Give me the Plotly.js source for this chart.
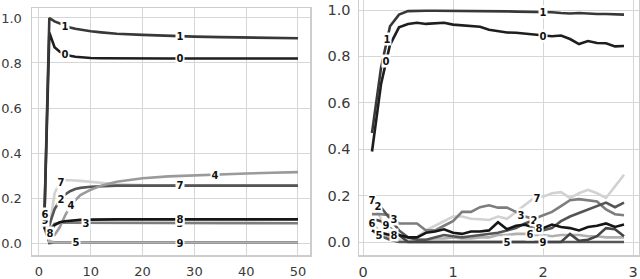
<!DOCTYPE html>
<html><head><meta charset="utf-8">
<script src="https://cdn.plot.ly/plotly-3.0.1.min.js"></script>
<style>html,body{margin:0;padding:0;background:#fff;}#chart{width:640px;height:279px;}</style>
</head><body><div id="chart"></div>
<script>
// ---- data: left panel ----
const seriesNames = ['0','1','2','3','4','5','6','7','8','9'];
const xLeft = [1,2,3,4,5,6,7,8,10,12,15,20,25,30,35,40,45,50];
const left0 = [0.07,0.935,0.87,0.85,0.84,0.832,0.828,0.825,0.822,0.821,0.82,0.82,0.82,0.82,0.82,0.82,0.82,0.82];
const left1 = [0.07,1.0,0.985,0.975,0.966,0.958,0.952,0.948,0.941,0.936,0.93,0.925,0.92,0.917,0.915,0.913,0.911,0.91];
const left2 = [0.09,0.08,0.15,0.19,0.215,0.23,0.24,0.245,0.25,0.253,0.255,0.255,0.255,0.255,0.255,0.255,0.255,0.255];
const left3 = [0.08,0.06,0.085,0.09,0.09,0.09,0.09,0.09,0.09,0.09,0.089,0.089,0.088,0.088,0.088,0.088,0.088,0.088];
const left4 = [0.08,0.02,0.035,0.07,0.12,0.165,0.19,0.213,0.237,0.255,0.272,0.288,0.296,0.301,0.305,0.309,0.312,0.315];
const left5 = [0.07,0.005,0.003,0.003,0.003,0.003,0.003,0.003,0.003,0.003,0.003,0.003,0.003,0.003,0.003,0.003,0.003,0.003];
const left6 = [0.15,0.005,0.002,0.002,0.002,0.002,0.002,0.002,0.002,0.002,0.002,0.002,0.002,0.002,0.002,0.002,0.002,0.002];
const left7 = [0.1,0.06,0.22,0.27,0.28,0.28,0.278,0.276,0.272,0.267,0.261,0.258,0.257,0.257,0.257,0.257,0.257,0.257];
const left8 = [0.07,0.04,0.08,0.092,0.097,0.1,0.102,0.103,0.104,0.105,0.105,0.105,0.105,0.105,0.105,0.105,0.105,0.105];
const left9 = [0.12,0.0,0.002,0.002,0.002,0.002,0.002,0.002,0.002,0.002,0.002,0.002,0.002,0.002,0.002,0.002,0.002,0.002];
const leftLabelX = [[5,27.2],[5,27.2],[4.2],[9.1,27.2],[6.1,34],[7.1],[1.14],[4.2,27.2],[2.1,27.2],[1.14,27.2]];

// ---- data: right panel ----
const xRight = [0.1,0.2,0.3,0.4,0.5,0.6,0.7,0.8,0.9,1.0,1.1,1.2,1.3,1.4,1.5,1.6,1.7,1.8,1.9,2.0,2.1,2.2,2.3,2.4,2.5,2.6,2.7,2.8,2.9];
const right0 = [0.39,0.68,0.85,0.925,0.94,0.945,0.94,0.942,0.945,0.937,0.935,0.932,0.928,0.915,0.908,0.903,0.902,0.898,0.893,0.89,0.887,0.89,0.875,0.853,0.866,0.858,0.857,0.843,0.845];
const right1 = [0.47,0.75,0.93,0.98,0.995,0.997,0.997,0.997,0.997,0.996,0.996,0.996,0.995,0.995,0.995,0.994,0.993,0.993,0.992,0.992,0.99,0.987,0.985,0.987,0.984,0.983,0.983,0.982,0.98];
const right2 = [0.17,0.15,0.1,0.05,0.02,0.01,0.01,0.02,0.03,0.025,0.02,0.025,0.03,0.035,0.04,0.05,0.06,0.08,0.095,0.05,0.06,0.09,0.11,0.125,0.14,0.155,0.17,0.15,0.17];
const right3 = [0.12,0.12,0.115,0.08,0.08,0.08,0.05,0.05,0.07,0.09,0.13,0.13,0.15,0.158,0.148,0.148,0.13,0.11,0.1,0.115,0.13,0.155,0.18,0.185,0.18,0.175,0.14,0.12,0.115];
const right4 = [];
const right5 = [0.05,0.025,0.01,0.0,0.0,0.0,0.0,0.0,0.0,0.0,0.0,0.0,0.0,0.0,0.0,0.0,0.0,0.0,0.0,0.0,0.0,0.0,0.0,0.0,0.0,0.0,0.0,0.0,0.0];
const right6 = [0.08,0.04,0.02,0.01,0.005,0.01,0.01,0.015,0.015,0.02,0.015,0.015,0.02,0.02,0.03,0.03,0.035,0.035,0.03,0.03,0.025,0.03,0.03,0.03,0.025,0.025,0.02,0.02,0.02];
const right7 = [0.18,0.1,0.04,0.01,0.01,0.02,0.05,0.07,0.09,0.11,0.11,0.1,0.098,0.095,0.11,0.1,0.13,0.16,0.19,0.195,0.21,0.215,0.19,0.21,0.225,0.21,0.19,0.24,0.29];
const right8 = [0.05,0.04,0.03,0.03,0.02,0.02,0.04,0.045,0.055,0.04,0.035,0.045,0.045,0.05,0.085,0.055,0.07,0.075,0.06,0.06,0.075,0.065,0.06,0.05,0.065,0.07,0.08,0.065,0.075];
const right9 = [0.1,0.09,0.06,0.03,0.0,0.0,0.0,0.0,0.0,0.0,0.0,0.0,0.0,0.0,0.0,0.0,0.0,0.0,0.0,0.0,0.0,0.0,0.035,0.005,0.01,0.025,0.06,0.055,0.025];
const rightLabelX = [[0.26,2.0],[0.27,2.0],[0.17,1.9],[0.34,1.76],[],[0.18,1.6],[0.1,1.85],[0.1,1.93],[0.34,1.95],[0.26,2.0]];

// ---- styles ----
const lineColors = ['#1e1e1e','#383838','#555555','#7d7d7d','#9a9a9a','#575757','#b0b0b0','#d2d2d2','#161616','#454545'];
const leftOrder = [0,1,7,2,3,4,5,9,6,8];
const rightOrder = [0,1,6,7,3,2,5,9,8];

const leftSeries = [left0,left1,left2,left3,left4,left5,left6,left7,left8,left9];
const rightSeries = [right0,right1,right2,right3,right4,right5,right6,right7,right8,right9];

function interp(xs, ys, x){
  for(let i=0;i<xs.length-1;i++){
    if(x>=xs[i] && x<=xs[i+1]){
      const t=(x-xs[i])/(xs[i+1]-xs[i]);
      return ys[i]+t*(ys[i+1]-ys[i]);
    }
  }
  return x<xs[0]?ys[0]:ys[ys.length-1];
}

const traces=[];
const annotations=[];
function addPanel(xs, series, order, labelX, xa, ya){
  order.forEach(k=>{
    if(!series[k].length) return;
    traces.push({x:xs,y:series[k],xaxis:xa,yaxis:ya,mode:'lines',showlegend:false,hoverinfo:'skip',
      line:{color:lineColors[k],width:2.6}});
  });
  order.forEach(k=>{
    labelX[k].forEach(lx=>{
      annotations.push({x:lx,y:interp(xs,series[k],lx),xref:xa,yref:ya,text:'<b>'+seriesNames[k]+'</b>',
        showarrow:false,bgcolor:'#ffffff',borderpad:0.5,
        font:{family:'DejaVu Sans',size:10,color:'#111'}});
    });
  });
}
addPanel(xLeft,leftSeries,leftOrder,leftLabelX,'x','y');
addPanel(xRight,rightSeries,rightOrder,rightLabelX,'x2','y2');

const axisBase = {showline:true,mirror:true,linecolor:'#cdcdcd',linewidth:1.5,showgrid:true,gridcolor:'#d6d6d6',gridwidth:1,
  zeroline:false,ticks:'',automargin:false,tickfont:{family:'DejaVu Sans',size:13,color:'#3a3a3a'}};

const layout = {
  width:640,height:279,margin:{l:0,r:0,t:0,b:0},paper_bgcolor:'#fff',plot_bgcolor:'#fff',
  showlegend:false,
  xaxis:Object.assign({},axisBase,{domain:[32/640,310/640],range:[-1.35,52.32],tickvals:[0,10,20,30,40,50],anchor:'y',ticklabelstandoff:4}),
  yaxis:Object.assign({},axisBase,{domain:[24/279,271/279],range:[-0.0533,1.0444],tickvals:[0,0.2,0.4,0.6,0.8,1.0],ticktext:['0.0','0.2','0.4','0.6','0.8','1.0'],anchor:'x',ticklabelstandoff:6}),
  xaxis2:Object.assign({},axisBase,{domain:[359/640,639/640],range:[-0.0444,3.0667],tickvals:[0,1,2,3],anchor:'y2',ticklabelstandoff:3,tickfont:{family:'DejaVu Sans',size:14.5,color:'#3a3a3a'}}),
  yaxis2:Object.assign({},axisBase,{domain:[24/279,1],range:[-0.056,1.0431],tickvals:[0,0.2,0.4,0.6,0.8,1.0],ticktext:['0.0','0.2','0.4','0.6','0.8','1.0'],anchor:'x2',ticklabelstandoff:4,tickfont:{family:'DejaVu Sans',size:14.5,color:'#3a3a3a'}}),
  annotations:annotations
};
Plotly.newPlot('chart',traces,layout,{staticPlot:true,displayModeBar:false});
</script>
</body></html>
